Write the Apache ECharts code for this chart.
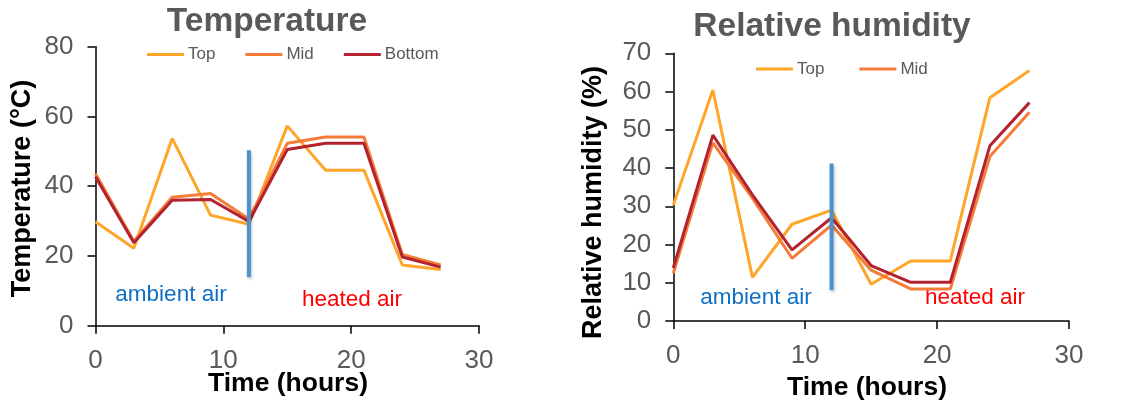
<!DOCTYPE html>
<html>
<head>
<meta charset="utf-8">
<script src="https://cdn.jsdelivr.net/npm/echarts@6/dist/echarts.min.js"></script>
<style>
html,body{margin:0;padding:0;background:#fff;}
#chart{width:1136px;height:405px;}
</style>
</head>
<body>
<div id="chart"></div>
<script>
// ---- data ----
const hours = [0, 3, 6, 9, 12, 15, 18, 21, 24, 27];
const tempTop = [29.8, 22.2, 53.7, 31.7, 29.1, 57.3, 44.6, 44.6, 17.4, 16.1];
const tempMid = [43.6, 24.2, 36.8, 37.9, 30.6, 52.3, 54.1, 54.1, 20.4, 17.4];
const tempBottom = [42.7, 23.8, 36.0, 36.2, 29.9, 50.5, 52.3, 52.3, 19.7, 16.8];
const rhTop = [30.3, 60.4, 11.4, 25.3, 29.0, 9.6, 15.7, 15.7, 58.4, 65.5];
const rhMid = [12.5, 46.6, 32.1, 16.4, 25.1, 13.3, 8.4, 8.4, 43.0, 54.6];
const rhBottom = [13.9, 48.6, 33.0, 18.6, 27.0, 14.5, 10.1, 10.1, 45.8, 57.1];
const tempDividerX = [12, 12];
const tempDividerY = [50.3, 14.0];
const rhDividerX = [12, 12];
const rhDividerY = [41.2, 8.1];
const seriesNames = ['Top', 'Mid', 'Bottom'];
const tempLegendNames = ['Top', 'Mid', 'Bottom'];
const rhLegendNames = ['Top', 'Mid'];
const titles = ['Temperature', 'Relative humidity'];
const yTitles = ['Temperature (\u00B0C)', 'Relative humidity (%)'];
const xTitle = 'Time (hours)';
const annotations = ['ambient air', 'heated air'];

// ---- styles ----
const FONT = 'Liberation Sans, Arial, sans-serif';
const colors = ['#FFA52A', '#F47C38', '#B3222E'];
const gray = '#595959';
const blue = '#4A92D0';

function pairs(xs, ys) { return xs.map((x, i) => [x, ys[i]]); }

const chart = echarts.init(document.getElementById('chart'), null, {renderer: 'canvas'});

function xAxisCfg(gi) {
  return {
    type: 'value', gridIndex: gi, min: 0, max: 30, interval: 10,
    axisLine: {show: true, onZero: false, lineStyle: {color: '#000', width: 1.5}},
    axisTick: {show: true, length: 8, lineStyle: {color: '#000', width: 1.5}},
    axisLabel: {color: gray, fontSize: 26, fontFamily: FONT, margin: 22},
    splitLine: {show: false}
  };
}
function yAxisCfg(gi, max, interval) {
  return {
    type: 'value', gridIndex: gi, min: 0, max: max, interval: interval,
    axisLine: {show: true, lineStyle: {color: '#000', width: 1.5}},
    axisTick: {show: true, length: 8, lineStyle: {color: '#000', width: 1.5}},
    axisLabel: {color: gray, fontSize: 26, fontFamily: FONT, margin: 22},
    splitLine: {show: false}
  };
}
function lineSeries(name, xs, ys, color, gi) {
  return {
    name: name, type: 'line', xAxisIndex: gi, yAxisIndex: gi,
    data: pairs(xs, ys), showSymbol: false, symbol: 'none', smooth: false,
    lineStyle: {color: color, width: 3}, itemStyle: {color: color},
    emphasis: {disabled: true}, animation: false
  };
}
function divider(xs, ys, gi) {
  return {
    name: 'divider', type: 'line', xAxisIndex: gi, yAxisIndex: gi,
    data: pairs(xs, ys), showSymbol: false, symbol: 'none',
    lineStyle: {color: blue, width: 4, cap: 'butt', shadowColor: 'rgba(0,0,0,0.25)', shadowBlur: 3, shadowOffsetX: 1, shadowOffsetY: 2},
    emphasis: {disabled: true}, animation: false, z: 5
  };
}
function legendCfg(names, left, top, gap) {
  return {
    data: names.map(n => ({name: n, icon: 'rect'})),
    left: left, top: top, padding: 0, itemWidth: 37, itemHeight: 3, itemGap: gap,
    textStyle: {color: gray, fontSize: 17, fontFamily: FONT, padding: [0, 0, 0, -1]},
    selectedMode: false
  };
}
function txt(text, x, y, size, color, bold, rot) {
  return {
    type: 'text', x: x, y: y, rotation: rot || 0,
    style: {text: text, fill: color, font: (bold ? 'bold ' : '') + size + 'px ' + FONT,
            textAlign: 'center', textVerticalAlign: 'middle'}
  };
}

const option = {
  animation: false,
  backgroundColor: '#fff',
  grid: [
    {left: 95.5, top: 46.7, width: 383.5, height: 279},
    {left: 673.3, top: 53.3, width: 395.7, height: 267.7}
  ],
  xAxis: [xAxisCfg(0), xAxisCfg(1)],
  yAxis: [yAxisCfg(0, 80, 20), yAxisCfg(1, 70, 10)],
  legend: [
    legendCfg(tempLegendNames, 147, 46, 30),
    legendCfg(rhLegendNames, 756, 60.5, 35)
  ],
  series: [
    lineSeries(seriesNames[0], hours, tempTop, colors[0], 0),
    lineSeries(seriesNames[1], hours, tempMid, colors[1], 0),
    lineSeries(seriesNames[2], hours, tempBottom, colors[2], 0),
    divider(tempDividerX, tempDividerY, 0),
    lineSeries(seriesNames[0], hours, rhTop, colors[0], 1),
    lineSeries(seriesNames[1], hours, rhMid, colors[1], 1),
    lineSeries(seriesNames[2], hours, rhBottom, colors[2], 1),
    divider(rhDividerX, rhDividerY, 1)
  ],
  graphic: [
    txt(titles[0], 267, 22, 33.5, gray, true),
    txt(titles[1], 832, 27, 33.5, gray, true),
    txt(xTitle, 288, 384, 26.5, '#000', true),
    txt(xTitle, 867, 387.5, 26.5, '#000', true),
    txt(yTitles[0], 23, 188.5, 27, '#000', true, Math.PI / 2),
    txt(yTitles[1], 594, 202.5, 27, '#000', true, Math.PI / 2),
    txt(annotations[0], 171, 295, 22.5, '#0F6FC6', false),
    txt(annotations[1], 352, 300, 22.5, '#FF0000', false),
    txt(annotations[0], 756, 298, 22.5, '#0F6FC6', false),
    txt(annotations[1], 975, 298, 22.5, '#FF0000', false)
  ]
};
chart.setOption(option);
</script>
</body>
</html>
